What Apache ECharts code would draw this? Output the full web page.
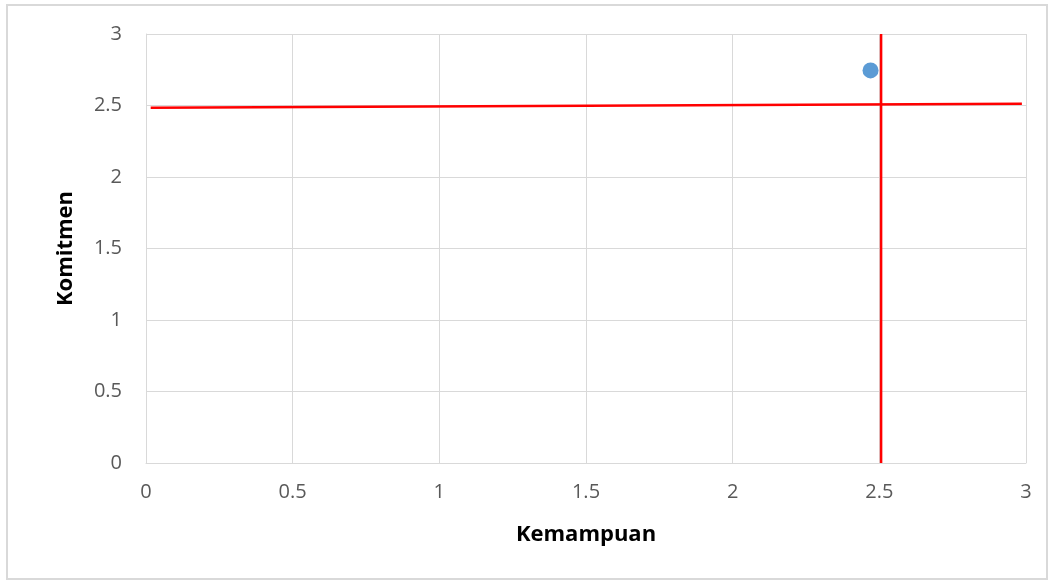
<!DOCTYPE html>
<html>
<head>
<meta charset="utf-8">
<script src="https://cdn.jsdelivr.net/npm/echarts@6/dist/echarts.min.js"></script>
<style>
  html, body { margin: 0; padding: 0; background: #fff; }
  #chart { width: 1055px; height: 581px; }
</style>
</head>
<body>
<div id="chart"></div>
<script>
// Axis tick values
const xTicks = [0, 0.5, 1, 1.5, 2, 2.5, 3];
const yTicks = [0, 0.5, 1, 1.5, 2, 2.5, 3];

// Respondent position: [Kemampuan, Komitmen]
const pointData = [[2.47, 2.745]];

// Quadrant divider lines
const horizontalLine = [[0.016, 2.485], [2.986, 2.513]];
const verticalLine = [[2.506, 0], [2.506, 3]];

const chart = echarts.init(document.getElementById('chart'));

const fontFamily = 'Open Sans, Liberation Sans, sans-serif';
const tickFont = { color: '#595959', fontSize: 20, fontFamily: fontFamily };
const titleFont = { color: '#000', fontSize: 22, fontWeight: 'bold', fontFamily: fontFamily };
const gridColor = '#d9d9d9';

chart.setOption({
  animation: false,
  graphic: [{
    type: 'rect',
    shape: { x: 7, y: 5, width: 1040, height: 574 },
    style: { fill: 'none', stroke: '#d9d9d9', lineWidth: 2 },
    silent: true
  }],
  grid: { left: 146, right: 29, top: 34, bottom: 118 },
  xAxis: {
    type: 'value',
    min: xTicks[0],
    max: xTicks[xTicks.length - 1],
    interval: 0.5,
    name: 'Kemampuan',
    nameLocation: 'middle',
    nameGap: 61,
    nameTextStyle: titleFont,
    axisLine: { show: true, lineStyle: { color: gridColor, width: 1 } },
    axisTick: { show: false },
    axisLabel: Object.assign({ margin: 19 }, tickFont),
    splitLine: { show: true, lineStyle: { color: gridColor, width: 1 } }
  },
  yAxis: {
    type: 'value',
    min: yTicks[0],
    max: yTicks[yTicks.length - 1],
    interval: 0.5,
    name: 'Komitmen',
    nameLocation: 'middle',
    nameGap: 69,
    nameTextStyle: titleFont,
    axisLine: { show: true, lineStyle: { color: gridColor, width: 1 } },
    axisTick: { show: false },
    axisLabel: Object.assign({ margin: 24 }, tickFont),
    splitLine: { show: true, lineStyle: { color: gridColor, width: 1 } }
  },
  series: [
    {
      type: 'line',
      data: horizontalLine,
      symbol: 'none',
      lineStyle: { color: '#ff0000', width: 2.5 },
      z: 3
    },
    {
      type: 'line',
      data: verticalLine,
      symbol: 'none',
      lineStyle: { color: '#ff0000', width: 2.5 },
      z: 3
    },
    {
      type: 'scatter',
      data: pointData,
      symbolSize: 16,
      itemStyle: { color: '#5b9bd5', opacity: 1 },
      z: 4
    }
  ]
});
</script>
</body>
</html>
